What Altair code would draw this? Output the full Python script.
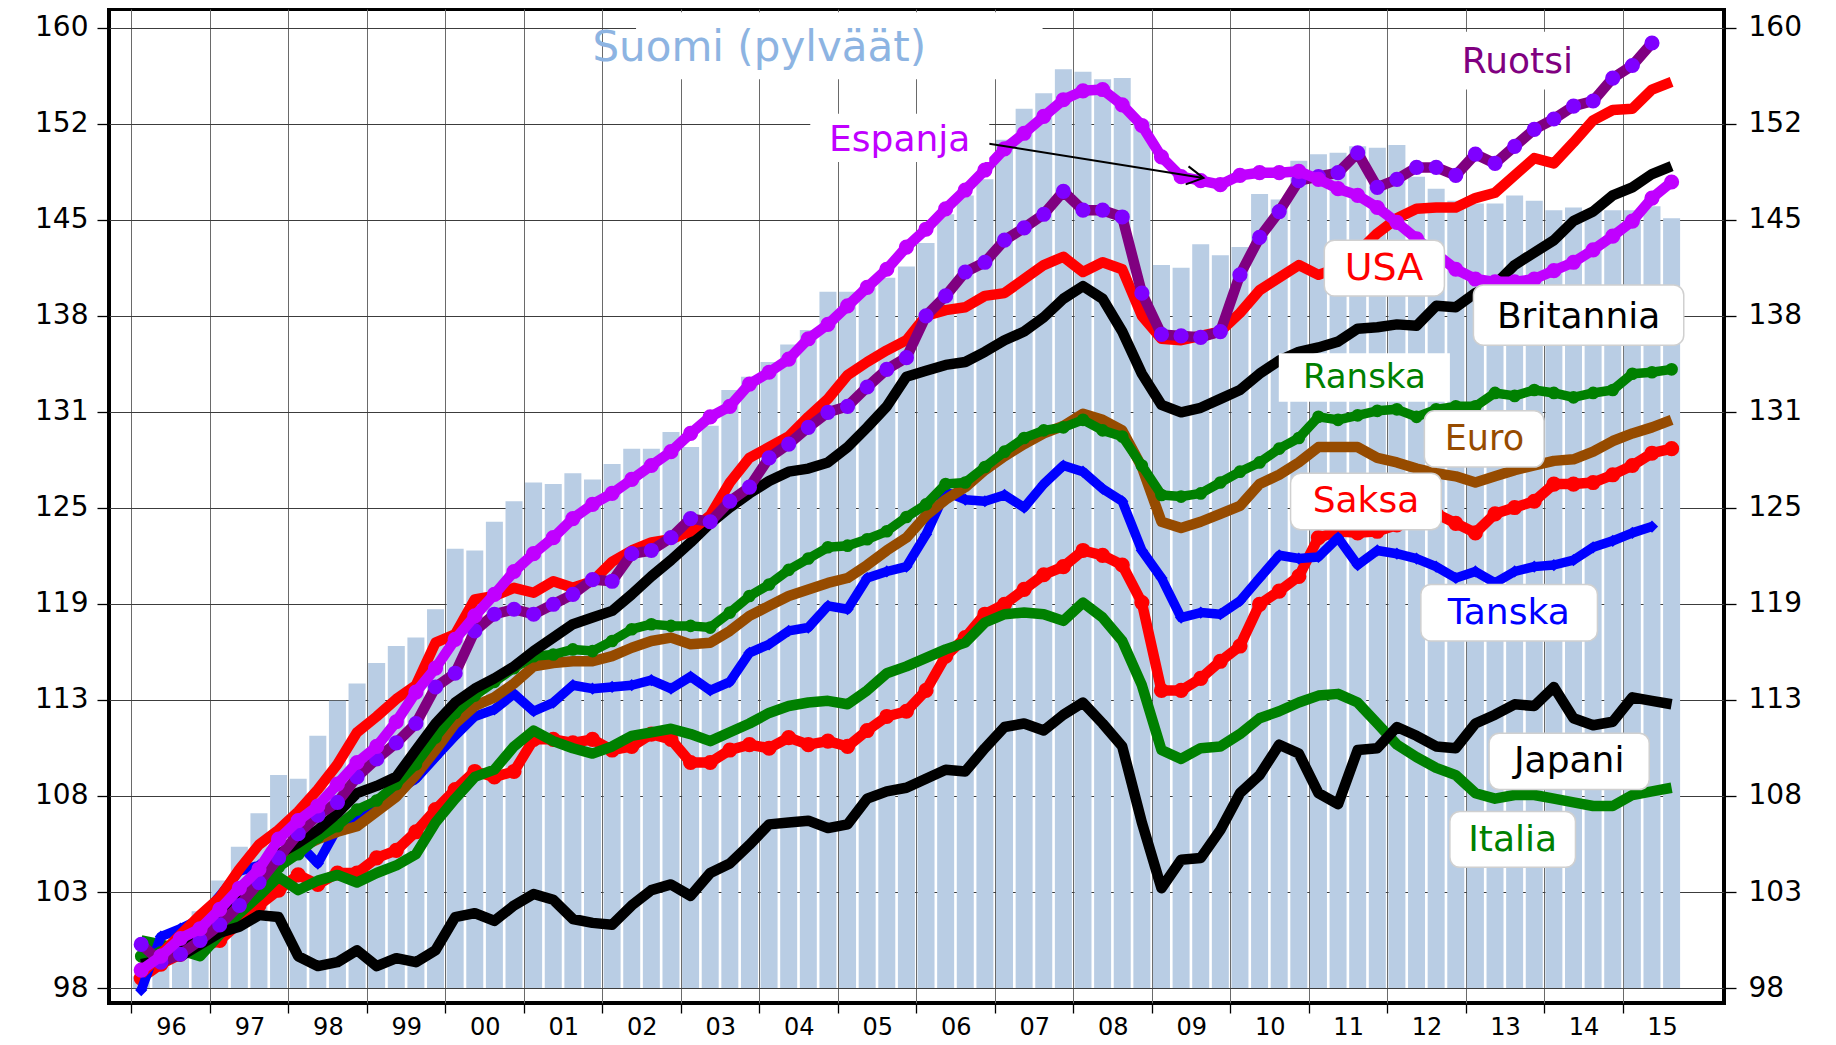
import altair as alt
import pandas as pd

# ---------------- data (index, quarterly 1996Q1 .. 2015Q3) ----------------
N = 79
quarters = [f"{1996 + i // 4}Q{i % 4 + 1}" for i in range(N)]
t_center = [1996 + (i + 0.5) / 4 for i in range(N)]

suomi = [98.6, 99.5, 99.9, 101.9, 103.5, 105.3, 107.1, 109.2, 109.0, 111.4, 113.4, 114.4,
         115.6, 116.6, 117.1, 118.8, 122.5, 122.4, 124.2, 125.5, 126.7, 126.6, 127.3, 126.9,
         127.9, 128.9, 128.9, 130.0, 129.0, 130.4, 132.8, 133.7, 134.7, 135.9, 136.9, 139.6,
         139.6, 139.9, 140.6, 141.4, 143.1, 145.2, 146.6, 147.8, 150.8, 153.2, 154.4, 156.3,
         156.1, 155.5, 155.6, 152.2, 141.5, 141.3, 143.0, 142.2, 142.8, 146.7, 146.3, 149.2,
         149.7, 149.8, 150.3, 150.2, 150.4, 148.0, 147.1, 146.2, 146.0, 146.0, 146.6, 146.2,
         145.5, 145.7, 145.5, 145.5, 145.5, 145.8, 144.9]

espanja = [98.9, 99.6, 100.5, 101.0, 102.0, 103.1, 104.1, 105.7, 106.7, 107.5, 108.7, 109.9,
           110.8, 112.2, 113.9, 115.3, 117.0, 118.4, 119.7, 121.1, 122.2, 123.2, 124.4, 125.3,
           126.0, 126.9, 127.8, 128.7, 129.9, 131.0, 131.7, 133.2, 134.0, 134.9, 136.3, 137.3,
           138.6, 139.9, 141.2, 142.8, 144.1, 145.6, 147.0, 148.5, 150.1, 151.3, 152.6, 153.9,
           154.6, 154.7, 153.5, 151.9, 149.5, 148.0, 147.7, 147.4, 148.1, 148.3, 148.3, 148.4,
           147.8, 147.1, 146.6, 145.7, 144.6, 143.4, 142.3, 141.2, 140.5, 140.3, 140.3, 140.5,
           141.1, 141.7, 142.6, 143.6, 144.7, 146.4, 147.6]

ruotsi = [100.2, 99.3, 99.7, 100.4, 101.2, 102.2, 103.4, 104.7, 106.0, 107.0, 107.7, 109.1,
          110.1, 111.0, 112.1, 114.2, 115.0, 117.5, 118.5, 118.8, 118.5, 119.1, 119.7, 120.6,
          120.5, 122.2, 122.4, 123.2, 124.4, 124.2, 125.5, 126.4, 128.3, 129.2, 130.3, 131.3,
          131.7, 133.0, 134.2, 135.0, 137.9, 139.3, 141.0, 141.7, 143.3, 144.2, 145.2, 146.9,
          145.5, 145.5, 145.0, 139.5, 136.6, 136.5, 136.4, 136.8, 140.8, 143.5, 145.4, 147.7,
          148.0, 148.3, 149.8, 147.2, 147.8, 148.7, 148.7, 148.1, 149.7, 149.0, 150.3, 151.6,
          152.4, 153.4, 153.8, 155.6, 156.6, 158.4, None]

usa = [98.7, 99.7, 100.7, 101.7, 102.6, 104.1, 105.4, 106.2, 107.2, 108.4, 109.8, 111.6,
       112.5, 113.5, 114.3, 116.8, 117.3, 119.4, 119.6, 120.1, 119.8, 120.5, 120.1, 120.5,
       121.7, 122.4, 122.9, 123.1, 123.6, 124.6, 126.7, 128.3, 129.0, 129.7, 131.0, 132.2,
       133.8, 134.7, 135.5, 136.2, 137.9, 138.3, 138.5, 139.3, 139.5, 140.5, 141.5, 142.1,
       141.0, 141.7, 141.2, 137.9, 136.3, 136.2, 136.5, 136.8, 138.1, 139.7, 140.6, 141.5,
       140.8, 141.3, 142.4, 143.8, 144.9, 145.6, 145.7, 145.7, 146.4, 146.8, 148.1, 149.4,
       149.0, 150.6, 152.3, 153.1, 153.2, 154.7, 155.3]

britannia = [99.2, 99.4, 99.8, 101.0, 101.9, 102.8, 103.8, 104.9, 105.5, 106.2, 107.1, 108.2,
             108.6, 109.1, 110.6, 112.1, 113.3, 114.1, 114.7, 115.4, 116.3, 117.1, 117.9, 118.3,
             118.7, 119.7, 120.8, 121.8, 122.9, 124.1, 125.1, 126.0, 126.8, 127.4, 127.6, 128.0,
             129.0, 130.3, 131.7, 133.7, 134.1, 134.5, 134.7, 135.4, 136.2, 136.8, 137.8, 139.1,
             140.0, 139.1, 136.8, 133.9, 131.8, 131.3, 131.6, 132.2, 132.8, 133.9, 134.8, 135.4,
             135.7, 136.1, 137.0, 137.1, 137.3, 137.2, 138.6, 138.5, 139.5, 140.1, 141.5, 142.4,
             143.3, 144.7, 145.4, 146.6, 147.2, 148.2, 148.8]

ranska = [99.6, 99.8, 100.2, 100.7, 101.4, 102.4, 103.2, 104.2, 104.9, 105.8, 106.4, 107.3,
          107.8, 108.7, 109.8, 111.3, 112.7, 113.7, 114.5, 115.3, 116.0, 116.1, 116.4, 116.3,
          116.9, 117.6, 117.9, 117.8, 117.8, 117.7, 118.6, 119.6, 120.3, 121.2, 121.9, 122.6,
          122.7, 123.1, 123.6, 124.5, 125.3, 126.6, 126.7, 127.7, 128.7, 129.6, 130.1, 130.3,
          130.8, 130.1, 129.7, 127.8, 125.9, 125.8, 126.0, 126.7, 127.4, 128.0, 128.9, 129.6,
          131.0, 130.8, 131.1, 131.4, 131.5, 131.0, 131.5, 131.7, 131.7, 132.6, 132.4, 132.8,
          132.6, 132.3, 132.6, 132.8, 133.9, 134.0, 134.2]

euro = [99.1, 99.5, 100.2, 100.8, 101.5, 102.4, 103.4, 104.4, 105.2, 105.7, 106.1, 106.4,
        107.2, 108.0, 109.2, 110.6, 112.1, 113.1, 113.6, 114.4, 115.4, 115.6, 115.7, 115.7,
        116.0, 116.5, 116.9, 117.1, 116.7, 116.8, 117.5, 118.4, 119.0, 119.6, 120.0, 120.4,
        120.7, 121.5, 122.4, 123.2, 124.6, 125.6, 126.4, 127.5, 128.4, 129.2, 129.9, 130.4,
        131.2, 130.8, 130.1, 127.7, 124.2, 123.8, 124.2, 124.7, 125.2, 126.6, 127.2, 128.0,
        129.0, 129.0, 129.0, 128.3, 128.0, 127.6, 127.3, 127.1, 126.7, 127.1, 127.5, 127.8,
        128.1, 128.2, 128.7, 129.4, 129.9, 130.3, 130.8]

saksa = [98.5, 99.2, 99.7, 100.0, 100.4, 101.3, 102.2, 103.0, 103.8, 103.3, 103.9, 103.9,
         104.7, 105.1, 106.1, 107.3, 108.4, 109.4, 109.1, 109.4, 111.2, 111.2, 111.0, 111.2,
         110.6, 110.8, 111.5, 111.2, 109.9, 109.9, 110.6, 110.9, 110.7, 111.3, 110.9, 111.1,
         110.8, 111.7, 112.5, 112.8, 114.0, 116.0, 117.1, 118.5, 119.1, 120.0, 120.9, 121.4,
         122.4, 122.1, 121.5, 119.2, 114.0, 114.0, 114.7, 115.7, 116.6, 119.1, 119.9, 120.8,
         123.2, 123.6, 123.5, 123.6, 124.0, 124.5, 124.7, 124.1, 123.5, 124.7, 125.1, 125.5,
         126.6, 126.6, 126.7, 127.2, 127.8, 128.6, 128.9]

tanska = [97.9, 100.6, 101.0, 101.5, 102.7, 104.0, 104.3, 104.9, 105.5, 104.4, 106.3, 106.8,
          107.6, 108.3, 109.0, 110.2, 111.4, 112.5, 112.9, 113.8, 112.8, 113.3, 114.3, 114.1,
          114.2, 114.3, 114.6, 114.1, 114.8, 114.0, 114.5, 116.2, 116.7, 117.5, 117.7, 119.0,
          118.8, 120.7, 121.1, 121.4, 123.4, 126.1, 125.6, 125.5, 125.9, 125.1, 126.6, 127.8,
          127.4, 126.3, 125.5, 122.4, 120.7, 118.3, 118.6, 118.5, 119.3, 120.7, 122.1, 121.9,
          122.0, 123.2, 121.5, 122.4, 122.2, 121.9, 121.4, 120.7, 121.1, 120.4, 121.1, 121.4,
          121.5, 121.8, 122.6, 123.0, 123.5, 123.9, None]

japani = [99.7, 99.7, 99.6, 100.2, 100.8, 101.1, 101.7, 101.6, 99.6, 99.1, 99.3, 99.9,
          99.1, 99.5, 99.3, 99.9, 101.6, 101.8, 101.4, 102.2, 102.8, 102.5, 101.5, 101.3,
          101.2, 102.2, 103.0, 103.3, 102.7, 103.9, 104.4, 105.4, 106.5, 106.6, 106.7, 106.3,
          106.5, 107.9, 108.3, 108.5, 109.0, 109.5, 109.4, 110.7, 111.9, 112.1, 111.7, 112.6,
          113.3, 112.1, 110.8, 106.6, 103.1, 104.6, 104.7, 106.2, 108.2, 109.2, 110.9, 110.4,
          108.2, 107.6, 110.6, 110.7, 111.9, 111.4, 110.8, 110.7, 112.1, 112.6, 113.2, 113.1,
          114.2, 112.4, 112.0, 112.2, 113.6, 113.4, 113.2]

italia = [100.4, 100.2, 99.9, 99.6, 100.7, 101.8, 102.7, 103.7, 103.0, 103.5, 103.8, 103.4,
          103.9, 104.3, 104.9, 106.6, 107.9, 109.1, 109.5, 110.8, 111.7, 111.1, 110.7, 110.4,
          110.8, 111.4, 111.6, 111.8, 111.5, 111.1, 111.6, 112.1, 112.7, 113.1, 113.3, 113.4,
          113.2, 114.0, 115.0, 115.4, 115.9, 116.4, 116.8, 118.0, 118.5, 118.6, 118.5, 118.1,
          119.2, 118.3, 116.9, 114.3, 110.6, 110.1, 110.7, 110.8, 111.5, 112.4, 112.8, 113.3,
          113.7, 113.8, 113.3, 112.1, 110.9, 110.2, 109.6, 109.2, 108.2, 107.9, 108.1, 108.1,
          107.9, 107.7, 107.5, 107.5, 108.1, 108.3, 108.5]

# axis ticks
year_ticks = list(range(1996, 2016))
y_ticks = [98.0, 102.9, 108.05, 113.45, 119.12, 125.08, 131.34, 137.9, 144.8, 152.04, 159.64]

# annotation labels (text, x, y, colour, font size)
label_text = ["Suomi (pylväät)", "Ruotsi", "Espanja", "USA", "Britannia", "Ranska",
              "Euro", "Saksa", "Tanska", "Japani", "Italia"]
label_x = [2004.0, 2013.66, 2005.79, 2011.96, 2014.44, 2011.71, 2013.24, 2011.73, 2013.55, 2014.32, 2013.6]
label_y = [158.0, 156.9, 150.8, 141.2, 137.8, 133.6, 129.5, 125.5, 118.55, 110.0, 105.65]
label_color = ["#8db4e2", "#800080", "#c000ff", "#ff0000", "#000000", "#008000",
               "#964b00", "#ff0000", "#0000ff", "#000000", "#008000"]
label_size = [42, 36, 36, 38, 36, 34, 35, 36, 36, 36, 36]

# label background boxes (x, x2, y, y2, bordered)
box_x = [2002.43, 2012.63, 2004.65, 2011.20, 2013.10, 2010.62, 2012.475, 2010.77, 2012.43, 2013.30, 2012.80]
box_x2 = [2007.61, 2014.66, 2006.93, 2012.73, 2015.78, 2012.80, 2014.0, 2012.69, 2014.68, 2015.34, 2014.40]
box_y = [155.5, 154.7, 149.1, 139.3, 135.85, 132.0, 127.7, 123.7, 116.9, 108.4, 104.2]
box_y2 = [160.9, 159.3, 152.8, 143.3, 140.07, 135.3, 131.4, 127.3, 120.3, 111.55, 107.2]
box_border = [False, False, False, True, True, False, True, True, True, True, True]

# arrow from "Espanja" to its line
arrow_x, arrow_y, arrow_x2, arrow_y2 = [2006.93], [150.5], [2009.66], [147.9]

# ---------------- scales / axes ----------------
xscale = alt.Scale(domain=[1995.778, 2016.229], nice=False, zero=False)
yscale = alt.Scale(type="log", domain=[97.26, 161.16], nice=False)

x_axis = alt.Axis(values=year_ticks, title=None, grid=True, gridColor="#6a6a6a", gridWidth=1,
                  domain=False, ticks=True, tickSize=10, tickColor="black", tickWidth=1.3,
                  labelExpr="substring(toString(datum.value), 2, 4)", labelOffset=39.5,
                  labelPadding=2, labelFontSize=24, labelFlush=False, labelOverlap=False,
                  labelBound=False)
X = alt.X("t:Q", scale=xscale, axis=x_axis)

y_left = alt.Axis(values=y_ticks, format=".0f", title=None, grid=True, gridColor="#3c3c3c",
                  gridWidth=1, domain=False, tickSize=12, tickColor="black", tickWidth=1.3,
                  labelPadding=9, labelFontSize=28, orient="left")
y_right = alt.Axis(values=y_ticks, format=".0f", title=None, grid=False, domain=False,
                   tickSize=12, tickColor="black", tickWidth=1.3, labelPadding=12,
                   labelFontSize=28, orient="right")

df_bar = pd.DataFrame({"t": t_center, "q": quarters, "v": suomi, "base": [98.0] * N})

bars = alt.Chart(df_bar).mark_bar(size=17, color="#b9cde4").encode(
    x=X, y=alt.Y("v:Q", scale=yscale, axis=y_left), y2=alt.Y2("base:Q"))
right_axis = alt.Chart(df_bar).mark_bar(size=17, opacity=0).encode(
    x=X, y=alt.Y("v:Q", scale=yscale, axis=y_right), y2=alt.Y2("base:Q"))

layers = [bars, right_axis]

Yn = alt.Y("v:Q", scale=yscale, axis=None)

series = [
    # values, line colour, width, marker shape, marker colour, marker size
    (saksa, "#ff0000", 10.5, "circle", "#ff0000", 230),
    (italia, "#008000", 10.5, None, None, 0),
    (japani, "#000000", 10.5, None, None, 0),
    (tanska, "#0000ff", 9.5, "diamond", "#0000ff", 150),
    (euro, "#964b00", 10.5, None, None, 0),
    (ranska, "#008000", 9.5, "circle", "#008000", 160),
    (britannia, "#000000", 10.5, None, None, 0),
    (usa, "#ff0000", 10.5, None, None, 0),
    (ruotsi, "#800080", 10.5, "circle", "#7f00ff", 230),
    (espanja, "#c000ff", 10.5, "circle", "#c000ff", 230),
]

for vals, col, w, shape, mcol, msize in series:
    d = pd.DataFrame({"t": t_center, "v": vals}).dropna()
    layers.append(alt.Chart(d).mark_line(color=col, strokeWidth=w, strokeJoin="round").encode(x=X, y=Yn))
    if shape:
        layers.append(alt.Chart(d).mark_point(shape=shape, filled=True, color=mcol, size=msize,
                                              opacity=1).encode(x=X, y=Yn))

# arrow
df_arrow = pd.DataFrame({"t": arrow_x, "v": arrow_y, "t2": arrow_x2, "v2": arrow_y2})
layers.append(alt.Chart(df_arrow).mark_rule(color="black", strokeWidth=2).encode(
    x=X, y=Yn, x2="t2:Q", y2="v2:Q"))
df_head = pd.DataFrame({"t": arrow_x2, "v": arrow_y2})
layers.append(alt.Chart(df_head).mark_point(shape="M -1 -0.55 L 0 0 L -1 0.55", filled=False,
                                            color="black", strokeWidth=2, size=1100, angle=9,
                                            opacity=1).encode(x=X, y=Yn))

# label boxes
df_box = pd.DataFrame({"t": box_x, "t2": box_x2, "v": box_y, "v2": box_y2, "b": box_border})
layers.append(alt.Chart(df_box[~df_box["b"]]).mark_rect(color="white").encode(
    x=X, x2="t2:Q", y=Yn, y2="v2:Q"))
layers.append(alt.Chart(df_box[df_box["b"]]).mark_rect(fill="white", stroke="#d0d0d0",
                                                       strokeWidth=1.5, cornerRadius=10).encode(
    x=X, x2="t2:Q", y=Yn, y2="v2:Q"))

# label texts
df_lab = pd.DataFrame({"t": label_x, "v": label_y, "txt": label_text, "c": label_color, "s": label_size})
layers.append(alt.Chart(df_lab).mark_text(font="DejaVu Sans", align="center", baseline="middle").encode(
    x=X, y=Yn, text="txt:N", color=alt.Color("c:N", scale=None), size=alt.Size("s:Q", scale=None)))

chart = alt.layer(*layers).resolve_axis(y="independent").properties(
    width=1615, height=994,
    autosize=alt.AutoSizeParams(type="none"),
    padding={"left": 101, "top": 1, "right": 96, "bottom": 46},
    background="white",
).configure_view(stroke="black", strokeWidth=4).configure_axis(
    labelFont="DejaVu Sans", labelColor="black")

chart.save("out.html", embed_options={"renderer": "svg", "actions": False})
